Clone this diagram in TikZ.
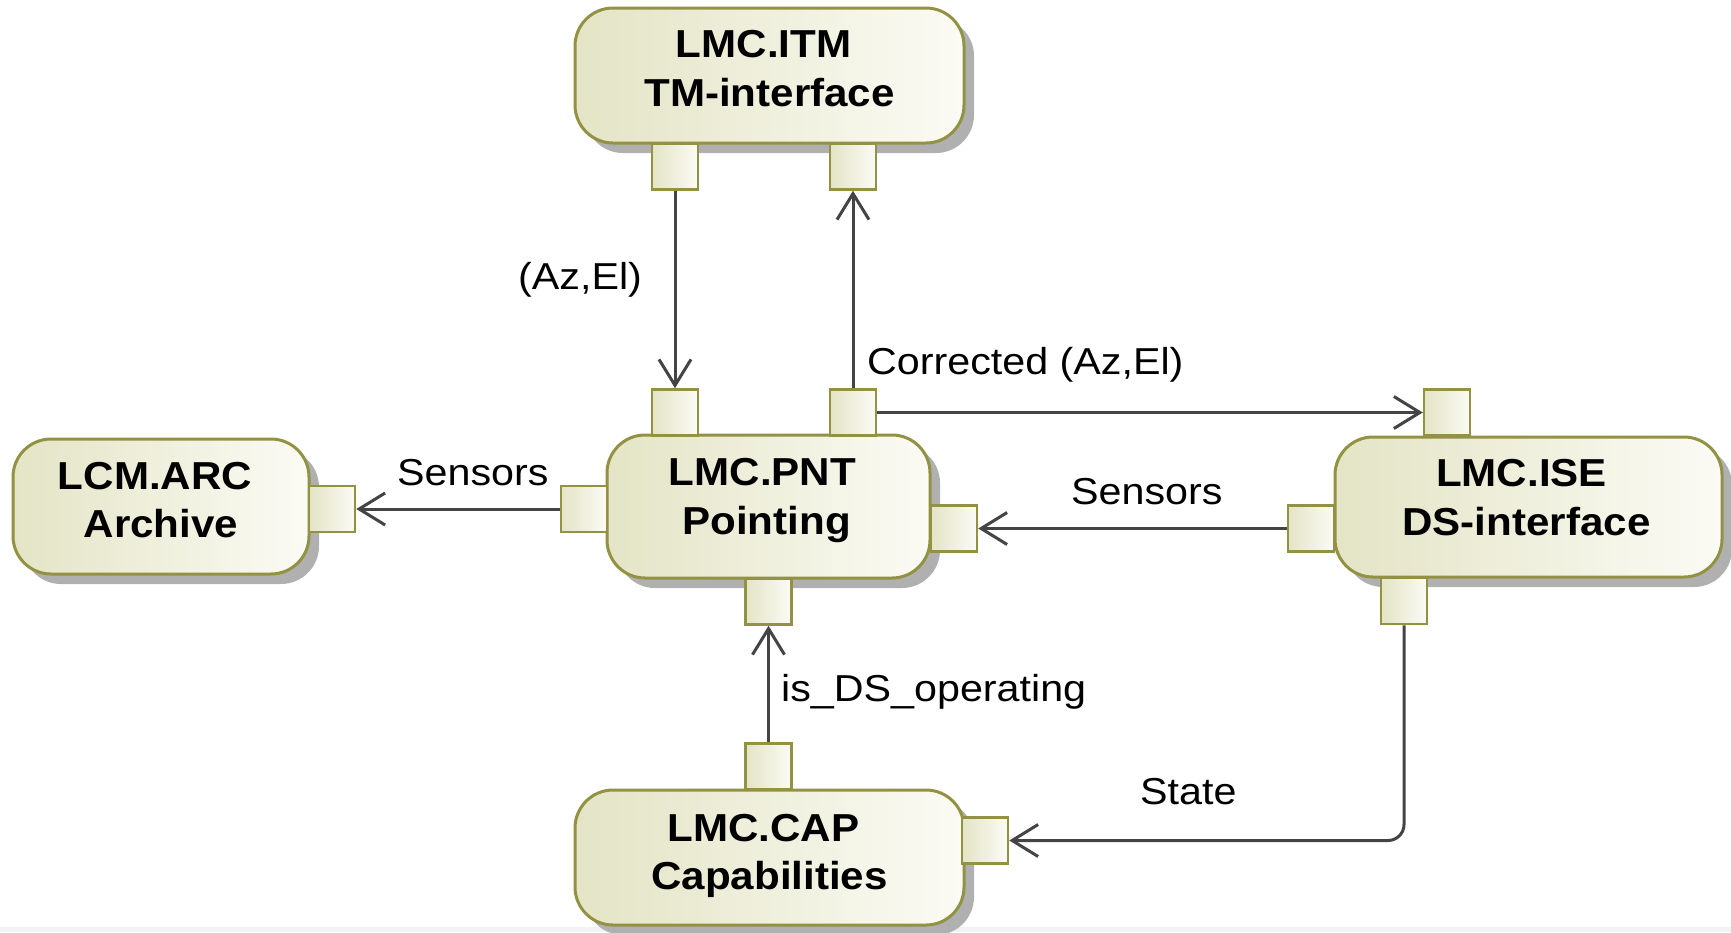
\documentclass[tikz,border=0pt]{standalone}
\usepackage{fontspec}
\setmainfont{Liberation Sans}
\newfontfamily\tfont[FakeStretch=1.08]{Liberation Sans}
\newfontfamily\lfont[FakeStretch=1.10]{Liberation Sans}
\usetikzlibrary{arrows.meta,shadows}
\definecolor{bord}{RGB}{146,146,66}
\definecolor{fillL}{RGB}{228,228,198}
\definecolor{fillR}{RGB}{251,251,245}
\definecolor{wirec}{RGB}{68,68,68}
\definecolor{shd}{RGB}{176,176,176}
\tikzset{
  comp/.style={draw=bord, line width=3pt, rounded corners=38pt, left color=fillL, right color=fillR,
    drop shadow={shadow xshift=10pt, shadow yshift=-10pt, fill=shd, opacity=1}, inner sep=0pt},
  port/.style={draw=bord, line width=2.5pt, left color=fillL, right color=fillR, minimum size=46pt, inner sep=0pt},
  ttl/.style={font=\tfont\bfseries\fontsize{39}{46}\selectfont, anchor=base, text=black, inner sep=0pt},
  lab/.style={font=\lfont\fontsize{37.5}{44}\selectfont, anchor=base west, text=black, inner sep=0pt},
  wire/.style={draw=wirec, line width=3pt, -{Straight Barb[length=26pt,width=32pt]}}
}
\begin{document}
\begin{tikzpicture}[x=1pt,y=-1pt]
\useasboundingbox (0,0) rectangle (1731,932);
\fill[white] (0,0) rectangle (1731,932);
\fill[black!5] (0,927) rectangle (1731,932);
% components
\node[comp, minimum width=389pt, minimum height=135pt] (itm) at (769.5,75.5) {};
\node[comp, minimum width=323pt, minimum height=143pt] (pnt) at (768.5,506.5) {};
\node[comp, minimum width=296pt, minimum height=135pt] (arc) at (161,506.5) {};
\node[comp, minimum width=387pt, minimum height=140pt] (ise) at (1528.5,507) {};
\node[comp, minimum width=389pt, minimum height=135pt] (cap) at (769.5,857.5) {};
% titles
\node[ttl] (itm1) at ([xshift=-6pt,yshift=18pt]itm.center) {LMC.ITM};
\node[ttl] (itm2) at ([yshift=-31pt]itm.center) {TM-interface};
\node[ttl] (pnt1) at ([xshift=-6pt,yshift=21pt]pnt.center) {LMC.PNT};
\node[ttl] (pnt2) at ([xshift=-2pt,yshift=-28pt]pnt.center) {Pointing};
\node[ttl] (arc1) at ([xshift=-6pt,yshift=17pt]arc.center) {LCM.ARC};
\node[ttl] (arc2) at ([yshift=-31pt]arc.center) {Archive};
\node[ttl] (ise1) at ([xshift=-7pt,yshift=21pt]ise.center) {LMC.ISE};
\node[ttl] (ise2) at ([xshift=-2pt,yshift=-28pt]ise.center) {DS-interface};
\node[ttl] (cap1) at ([xshift=-6pt,yshift=16pt]cap.center) {LMC.CAP};
\node[ttl] (cap2) at ([yshift=-32pt]cap.center) {Capabilities};
% ports
\node[port] (itmL) at (675,166.5) {};
\node[port] (itmR) at (853,166.5) {};
\node[port] (pntTL) at (675,412.5) {};
\node[port] (pntTR) at (853,412.5) {};
\node[port] (pntL) at (584,509) {};
\node[port] (pntR) at (954,528.5) {};
\node[port] (pntB) at (768.5,601.5) {};
\node[port] (arcP) at (332,509) {};
\node[port] (iseT) at (1447,412.5) {};
\node[port] (iseL) at (1311,528.5) {};
\node[port] (iseB) at (1404,601) {};
\node[port] (capT) at (768.5,766.5) {};
\node[port] (capR) at (985,840.5) {};
% connectors
\draw[wire] (itmL.south) -- (pntTL.north);
\draw[wire] (pntTR.north) -- (itmR.south);
\draw[wire] (pntTR.east) -- (iseT.west);
\draw[wire] (pntL.west) -- (arcP.east);
\draw[wire] (iseL.west) -- (pntR.east);
\draw[wire] (capT.north) -- (pntB.south);
\draw[wire, rounded corners=16pt] (iseB.south) |- (capR.east);
% labels
\node[lab] (l1) at (518,289) {(Az,El)};
\node[lab] (l2) at (867,374) {Corrected (Az,El)};
\node[lab] (l3) at (397,485) {Sensors};
\node[lab] (l4) at (1071,504) {Sensors};
\node[lab] (l5) at (781,701) {is\_DS\_operating};
\node[lab] (l6) at (1140,804) {State};
\end{tikzpicture}
\end{document}
